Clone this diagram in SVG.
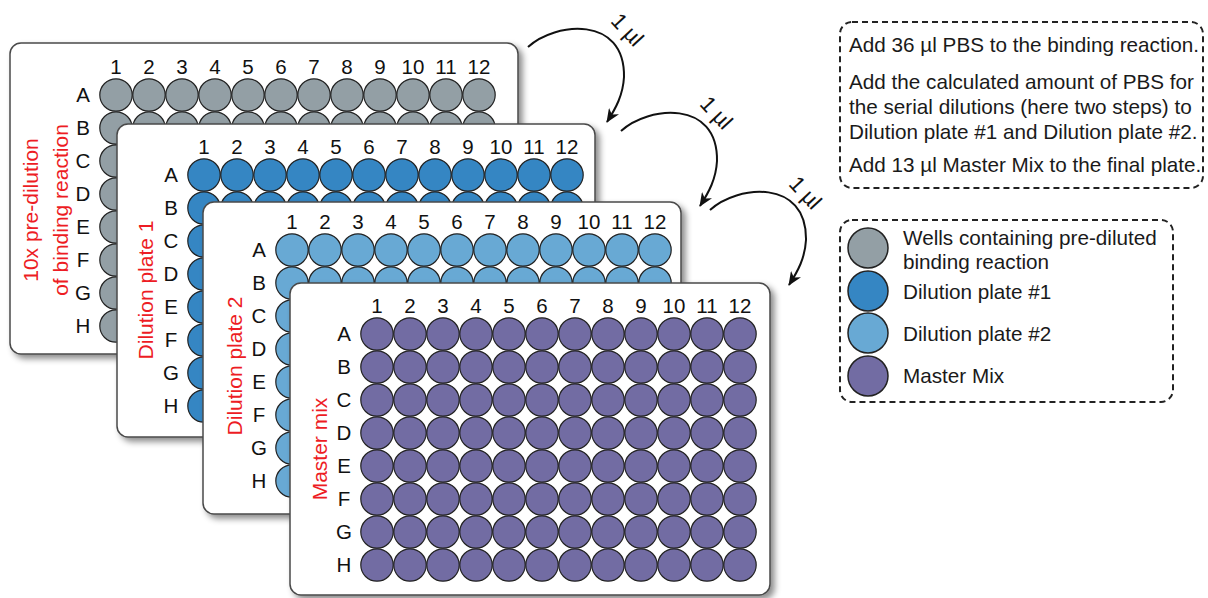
<svg xmlns="http://www.w3.org/2000/svg" width="1208" height="598" viewBox="0 0 1208 598">
<defs>
<style>
.plate{fill:#fff;stroke:#4a4a4a;stroke-width:1.5;filter:url(#sh)}
.lbl{font-family:"Liberation Sans",Arial,sans-serif;font-size:20.5px;fill:#111;text-anchor:middle}
.red{font-family:"Liberation Sans",Arial,sans-serif;font-size:21px;fill:#ed1c24;text-anchor:middle}
.wells{stroke:#222;stroke-width:1.2}
.g1{fill:#939fa5}.g2{fill:#3586c3}.g3{fill:#68a9d4}.g4{fill:#726ca3}
.box{fill:none;stroke:#222;stroke-width:2;stroke-dasharray:6 4}
.txt{font-family:"Liberation Sans",Arial,sans-serif;font-size:20.7px;fill:#1a1a1a}
.arr{fill:none;stroke:#111;stroke-width:2;marker-end:url(#ah)}
.ul{font-family:"Liberation Sans",Arial,sans-serif;font-size:22px;fill:#111;text-anchor:middle}
.leg{stroke:#222;stroke-width:1.5}
</style>
<filter id="sh" x="-5%" y="-5%" width="115%" height="115%"><feDropShadow dx="4" dy="4" stdDeviation="3" flood-color="#000" flood-opacity="0.45"/></filter>
<marker id="ah" markerUnits="userSpaceOnUse" markerWidth="15" markerHeight="12" refX="13" refY="6" orient="auto"><path d="M0,0 L14,6 L0,12 L4,6 z" fill="#111"/></marker>
<g id="wr">
<circle cx="0" cy="0" r="16.2"/><circle cx="33" cy="0" r="16.2"/><circle cx="66" cy="0" r="16.2"/><circle cx="99" cy="0" r="16.2"/><circle cx="132" cy="0" r="16.2"/><circle cx="165" cy="0" r="16.2"/><circle cx="198" cy="0" r="16.2"/><circle cx="231" cy="0" r="16.2"/><circle cx="264" cy="0" r="16.2"/><circle cx="297" cy="0" r="16.2"/><circle cx="330" cy="0" r="16.2"/><circle cx="363" cy="0" r="16.2"/>
</g>
<g id="grid">
<use href="#wr" y="0"/><use href="#wr" y="33"/><use href="#wr" y="66"/><use href="#wr" y="99"/><use href="#wr" y="132"/><use href="#wr" y="165"/><use href="#wr" y="198"/><use href="#wr" y="231"/>
</g>
</defs>
<rect width="1208" height="598" fill="#fff"/>

<g id="plate1">
<rect class="plate" x="10" y="43" width="508" height="311" rx="11"/>
<g class="lbl">
<text x="116" y="74">1</text><text x="149" y="74">2</text><text x="182" y="74">3</text><text x="215" y="74">4</text><text x="248" y="74">5</text><text x="281" y="74">6</text><text x="314" y="74">7</text><text x="347" y="74">8</text><text x="380" y="74">9</text><text x="413" y="74">10</text><text x="446" y="74">11</text><text x="479" y="74">12</text>
<text x="83" y="102">A</text><text x="83" y="135">B</text><text x="83" y="168">C</text><text x="83" y="201">D</text><text x="83" y="234">E</text><text x="83" y="267">F</text><text x="83" y="300">G</text><text x="83" y="333">H</text>
</g>
<text class="red" transform="translate(38,210) rotate(-90)">10x pre-dilution</text>
<text class="red" transform="translate(68,210) rotate(-90)">of binding reaction</text>
<use href="#grid" x="116" y="95" class="wells g1"/>
</g>

<g id="plate2">
<rect class="plate" x="117" y="124" width="478" height="313" rx="11"/>
<g class="lbl">
<text x="204" y="154">1</text><text x="237" y="154">2</text><text x="270" y="154">3</text><text x="303" y="154">4</text><text x="336" y="154">5</text><text x="369" y="154">6</text><text x="402" y="154">7</text><text x="435" y="154">8</text><text x="468" y="154">9</text><text x="501" y="154">10</text><text x="534" y="154">11</text><text x="567" y="154">12</text>
<text x="171" y="182">A</text><text x="171" y="215">B</text><text x="171" y="248">C</text><text x="171" y="281">D</text><text x="171" y="314">E</text><text x="171" y="347">F</text><text x="171" y="380">G</text><text x="171" y="413">H</text>
</g>
<text class="red" transform="translate(153,290) rotate(-90)">Dilution plate 1</text>
<use href="#grid" x="204" y="175" class="wells g2"/>
</g>

<g id="plate3">
<rect class="plate" x="203" y="202" width="478" height="312" rx="11"/>
<g class="lbl">
<text x="292" y="229">1</text><text x="325" y="229">2</text><text x="358" y="229">3</text><text x="391" y="229">4</text><text x="424" y="229">5</text><text x="457" y="229">6</text><text x="490" y="229">7</text><text x="523" y="229">8</text><text x="556" y="229">9</text><text x="589" y="229">10</text><text x="622" y="229">11</text><text x="655" y="229">12</text>
<text x="259" y="257">A</text><text x="259" y="290">B</text><text x="259" y="323">C</text><text x="259" y="356">D</text><text x="259" y="389">E</text><text x="259" y="422">F</text><text x="259" y="455">G</text><text x="259" y="488">H</text>
</g>
<text class="red" transform="translate(242,366) rotate(-90)">Dilution plate 2</text>
<use href="#grid" x="292" y="250" class="wells g3"/>
</g>

<g id="plate4">
<rect class="plate" x="290" y="283" width="480" height="312" rx="11"/>
<g class="lbl">
<text x="377" y="313">1</text><text x="410" y="313">2</text><text x="443" y="313">3</text><text x="476" y="313">4</text><text x="509" y="313">5</text><text x="542" y="313">6</text><text x="575" y="313">7</text><text x="608" y="313">8</text><text x="641" y="313">9</text><text x="674" y="313">10</text><text x="707" y="313">11</text><text x="740" y="313">12</text>
<text x="344" y="341">A</text><text x="344" y="374">B</text><text x="344" y="407">C</text><text x="344" y="440">D</text><text x="344" y="473">E</text><text x="344" y="506">F</text><text x="344" y="539">G</text><text x="344" y="572">H</text>
</g>
<text class="red" transform="translate(327,449) rotate(-90)">Master mix</text>
<use href="#grid" x="377" y="334" class="wells g4"/>
</g>

<g id="connectors">
<path class="arr" d="M528,47 C555,22 625,15 624,77 C623,95 616,108 607,122"/>
<path class="arr" d="M621,131 C648,106 718,99 717,161 C716,179 709,192 700,206"/>
<path class="arr" d="M710,210 C737,185 807,178 806,240 C805,258 798,271 789,285"/>
<text class="ul" transform="translate(627,30) rotate(47)" y="7">1 µl</text>
<text class="ul" transform="translate(716,113) rotate(47)" y="7">1 µl</text>
<text class="ul" transform="translate(805,193) rotate(47)" y="7">1 µl</text>
</g>

<g id="instructions">
<rect class="box" x="840" y="22" width="363" height="166" rx="12"/>
<text class="txt" x="849" y="52">Add 36 µl PBS to the binding reaction.</text>
<text class="txt" x="849" y="89">Add the calculated amount of PBS for</text>
<text class="txt" x="849" y="114">the serial dilutions (here two steps) to</text>
<text class="txt" x="849" y="139">Dilution plate #1 and Dilution plate #2.</text>
<text class="txt" x="849" y="172">Add 13 µl Master Mix to the final plate.</text>
</g>

<g id="legend">
<rect class="box" x="840" y="220" width="333" height="182" rx="12"/>
<circle class="leg g1" cx="868" cy="248" r="20"/>
<circle class="leg g2" cx="868" cy="291" r="20"/>
<circle class="leg g3" cx="868" cy="333" r="20"/>
<circle class="leg g4" cx="868" cy="376" r="20"/>
<text class="txt" x="903" y="245">Wells containing pre-diluted</text>
<text class="txt" x="903" y="269">binding reaction</text>
<text class="txt" x="903" y="299">Dilution plate #1</text>
<text class="txt" x="903" y="341">Dilution plate #2</text>
<text class="txt" x="903" y="383">Master Mix</text>
</g>
</svg>
